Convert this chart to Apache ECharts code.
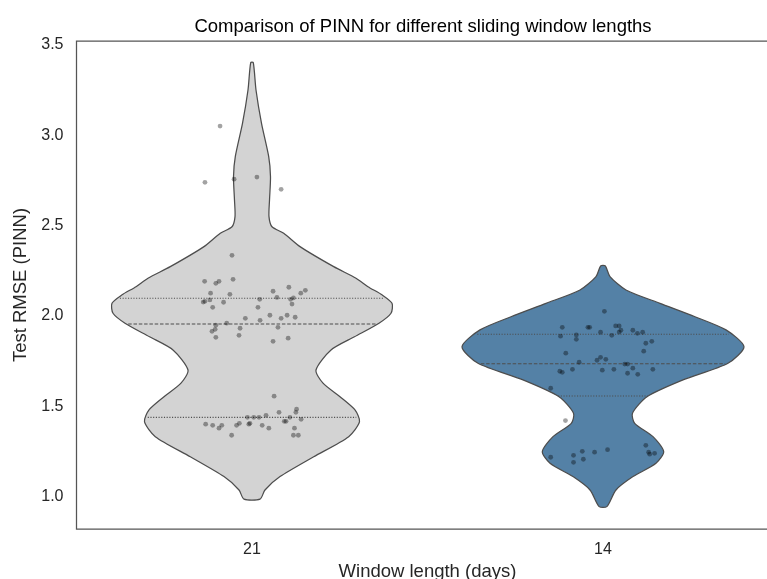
<!DOCTYPE html>
<html>
<head>
<meta charset="utf-8">
<script src="https://cdn.jsdelivr.net/npm/echarts@6/dist/echarts.min.js"></script>
<style>
  html, body { margin: 0; padding: 0; background: #ffffff; }
  #chart { width: 767px; height: 579px; }
</style>
</head>
<body>
<div id="chart"></div>
<script>
// ---------------- data ----------------
const categories = ['21', '14'];
const yTicks = [1.0, 1.5, 2.0, 2.5, 3.0, 3.5];

// strip points: Test RMSE values and their horizontal jitter (in category widths)
const rmse21 = [2.192, 2.181, 2.192, 2.203, 2.126, 2.077, 2.081, 2.089, 2.048, 2.076,
  2.120, 2.092, 2.048, 2.137, 2.103, 2.159, 2.092, 2.100, 2.066, 2.126,
  2.142, 1.987, 1.976, 2.004, 1.987, 2.004, 1.993, 1.960, 1.949, 1.926,
  1.915, 1.882, 1.932, 1.893, 1.937, 1.860, 1.877, 3.051, 2.740, 2.757,
  2.769, 2.701, 2.336, 1.556, 1.467, 1.484, 1.467, 1.439, 1.428, 1.417,
  1.417, 1.450, 1.439, 1.439, 1.439, 1.406, 1.401, 1.406, 1.395, 1.395,
  1.379, 1.379, 1.340, 1.340, 1.401, 1.395, 1.379, 1.395, 1.340];
const jitter21 = [-0.135, -0.103, -0.094, -0.054, -0.118, -0.139, -0.134, -0.120, -0.112, -0.081,
  -0.063, 0.022, 0.017, 0.060, 0.071, 0.105, 0.110, 0.118, 0.114, 0.139,
  0.152, -0.019, 0.023, 0.051, 0.083, 0.100, 0.123, -0.072, -0.103, -0.105,
  -0.114, -0.103, -0.034, -0.037, 0.074, 0.060, 0.103, -0.091, -0.134, -0.051,
  0.014, 0.083, -0.057, 0.063, 0.077, 0.127, 0.125, 0.108, 0.140, 0.092,
  0.097, 0.040, 0.020, 0.005, -0.013, -0.006, -0.009, -0.036, -0.044, 0.029,
  0.048, 0.121, 0.118, 0.132, -0.132, -0.112, -0.094, -0.086, -0.058];

const rmse14 = [2.026, 1.937, 1.937, 1.937, 1.945, 1.945, 1.921, 1.911, 1.921, 1.904,
  1.910, 1.910, 1.893, 1.888, 1.895, 1.871, 1.849, 1.860, 1.805, 1.794,
  1.771, 1.755, 1.760, 1.744, 1.734, 1.734, 1.694, 1.688, 1.705, 1.700,
  1.705, 1.683, 1.711, 1.677, 1.705, 1.600, 1.421, 1.218, 1.229, 1.190,
  1.251, 1.207, 1.246, 1.260, 1.284, 1.246, 1.235, 1.240];
const jitter14 = [0.004, -0.116, -0.043, -0.038, 0.036, 0.046, 0.051, 0.046, 0.085, 0.098,
  0.113, -0.007, 0.025, -0.121, -0.076, -0.076, 0.122, 0.139, 0.116, -0.106,
  -0.007, -0.017, 0.008, -0.068, 0.062, 0.070, -0.123, -0.116, -0.087, -0.002,
  0.031, 0.070, 0.085, 0.099, 0.142, -0.149, -0.107, -0.149, -0.084, -0.084,
  -0.059, -0.056, -0.024, 0.013, 0.122, 0.130, 0.133, 0.147];

// violin outlines: RMSE level and half width (in category widths) of the density
const profileY21 = [3.402, 3.251, 3.066, 2.882, 2.771, 2.642, 2.550, 2.494, 2.458, 2.384,
  2.273, 2.209, 2.162, 2.116, 2.070, 2.015, 1.960, 1.885, 1.812, 1.701,
  1.628, 1.553, 1.480, 1.415, 1.332, 1.221, 1.111, 1.037, 0.986];
const profileHalfWidth21 = [0.0037, 0.0114, 0.0271, 0.0476, 0.0527, 0.0499, 0.0484, 0.0570, 0.0903, 0.1368,
  0.2328, 0.2963, 0.3305, 0.3712, 0.3989, 0.3960, 0.3618, 0.2920, 0.2251, 0.1823,
  0.2023, 0.2507, 0.2934, 0.3063, 0.2755, 0.1758, 0.0798, 0.0370, 0.0228];
const profileY14 = [2.277, 2.218, 2.144, 2.070, 1.996, 1.923, 1.830, 1.738, 1.646, 1.553,
  1.462, 1.406, 1.332, 1.249, 1.185, 1.111, 1.037, 0.945];
const profileHalfWidth14 = [0.0066, 0.0199, 0.0655, 0.1624, 0.2621, 0.3504, 0.4017, 0.3561, 0.2279, 0.1254,
  0.0840, 0.0903, 0.1425, 0.1729, 0.1510, 0.0855, 0.0370, 0.0110];

// quartiles [Q1, median, Q3]
const quartiles21 = [1.439, 1.956, 2.098];
const quartiles14 = [1.557, 1.736, 1.899];

// ---------------- chart ----------------
const FONT = '"Liberation Sans", Arial, Helvetica, sans-serif';
const TEXT = '#262626';
const EDGE = '#4d4d4d';
const fills = ['#d3d3d3', '#5481a6'];
const profiles = [
  { y: profileY21, hw: profileHalfWidth21, q: quartiles21 },
  { y: profileY14, hw: profileHalfWidth14, q: quartiles14 }
];

function halfWidthAt(p, v) {
  for (let i = 0; i < p.y.length - 1; i++) {
    const a = p.y[i], b = p.y[i + 1];
    if ((v <= a && v >= b)) {
      const t = (a - v) / (a - b);
      return p.hw[i] + t * (p.hw[i + 1] - p.hw[i]);
    }
  }
  return 0;
}

function renderViolin(params, api) {
  const idx = api.value(0);
  const p = profiles[idx];
  const right = [], left = [];
  for (let i = 0; i < p.y.length; i++) {
    right.push(api.coord([idx + p.hw[i], p.y[i]]));
    left.unshift(api.coord([idx - p.hw[i], p.y[i]]));
  }
  const children = [{
    type: 'polygon',
    shape: { points: right.concat(left), smooth: 0.25 },
    style: { fill: fills[idx], stroke: EDGE, lineWidth: 1.25 }
  }];
  p.q.forEach((qv, k) => {
    const hw = halfWidthAt(p, qv) * 0.985;
    const a = api.coord([idx - hw, qv]);
    const b = api.coord([idx + hw, qv]);
    children.push({
      type: 'line',
      shape: { x1: a[0], y1: a[1], x2: b[0], y2: b[1] },
      style: {
        stroke: EDGE, lineWidth: 1.1,
        lineDash: k === 1 ? [3.5, 1.8] : [1.1, 1.6]
      }
    });
  });
  return { type: 'group', children };
}

const points = [];
rmse21.forEach((v, i) => points.push([0 + jitter21[i], v]));
rmse14.forEach((v, i) => points.push([1 + jitter14[i], v]));

const chart = echarts.init(document.getElementById('chart'), null, { renderer: 'canvas' });
chart.setOption({
  animation: false,
  backgroundColor: '#ffffff',
  title: {
    text: 'Comparison of PINN for different sliding window lengths',
    left: 418, top: 12, textAlign: 'center',
    textStyle: { fontFamily: FONT, fontSize: 18.5, fontWeight: 'normal', color: '#000000' }
  },
  grid: {
    left: 76.5, right: -11.5, top: 41, bottom: 50,
    show: true, borderColor: '#555555', borderWidth: 1.25,
    containLabel: false, outerBoundsMode: 'none'
  },
  xAxis: {
    type: 'value', min: -0.5, max: 1.5,
    name: 'Window length (days)', nameLocation: 'middle', nameGap: 26,
    nameTextStyle: { fontFamily: FONT, fontSize: 18.5, color: TEXT },
    axisLine: { show: false }, axisTick: { show: false }, splitLine: { show: false },
    axisLabel: {
      customValues: [0, 1], margin: 13,
      fontFamily: FONT, fontSize: 16, color: TEXT,
      formatter: (v) => categories[Math.round(v)]
    }
  },
  yAxis: {
    type: 'value', min: 0.821, max: 3.522,
    name: 'Test RMSE (PINN)', nameLocation: 'middle', nameGap: 45, nameRotate: 90,
    nameTextStyle: { fontFamily: FONT, fontSize: 18.5, color: TEXT },
    axisLine: { show: false }, axisTick: { show: false }, splitLine: { show: false },
    axisLabel: {
      customValues: yTicks, margin: 13,
      fontFamily: FONT, fontSize: 16, color: TEXT,
      formatter: (v) => Number(v).toFixed(1)
    }
  },
  series: [
    {
      type: 'custom',
      renderItem: renderViolin,
      data: categories.map((c, i) => [i, 2]),
      encode: { x: 0, y: 1 },
      clip: false,
      z: 2,
      silent: true
    },
    {
      type: 'scatter',
      data: points,
      symbol: 'circle',
      symbolSize: 4.8,
      itemStyle: { color: 'rgba(0,0,0,0.45)' },
      z: 5,
      silent: true
    }
  ]
});
</script>
</body>
</html>
